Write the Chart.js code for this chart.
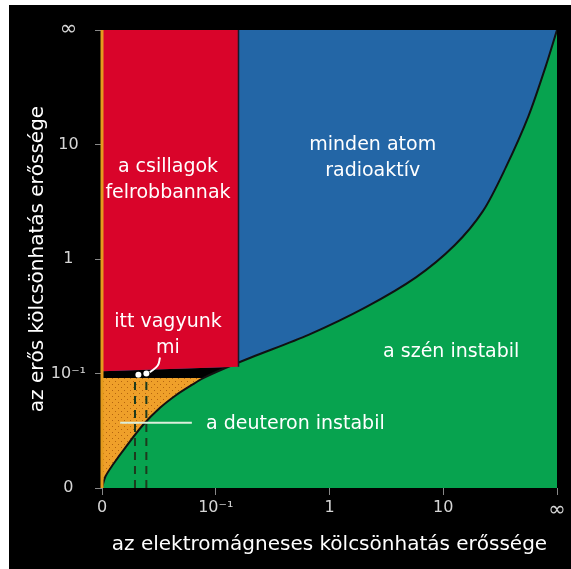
<!DOCTYPE html>
<html>
<head>
<meta charset="utf-8">
<script src="https://cdn.jsdelivr.net/npm/chart.js@4"></script>
<style>
  body { margin: 0; background: #fff; }
  #wrap { position: absolute; left: 9px; top: 5px; width: 562px; height: 564px; background: #000; }
</style>
</head>
<body>
<div id="wrap"><canvas id="phase" width="562" height="564"></canvas></div>
<script>
// tick labels, both axes use the same odd scale: 0, 10^-1, 1, 10, infinity
const tickLabels = ['0', '10\u207B\u00B9', '1', '10', '\u221E'];

// boundary between "a szén instabil" (below) and the rest
const curveX = [0, 0.03, 0.1, 0.21, 0.36, 0.51, 0.65, 0.79, 0.89, 1.09, 1.31, 1.82, 2.32, 2.76, 3.1, 3.35, 3.55, 3.75, 3.9, 4];
const curveY = [0, 0.1, 0.21, 0.36, 0.55, 0.70, 0.81, 0.90, 0.96, 1.05, 1.14, 1.34, 1.58, 1.84, 2.12, 2.42, 2.8, 3.25, 3.68, 4];

// red block (stars explode) and orange block (deuteron unstable)
const redX = [0, 1.2];
const redY = [1.02, 1.06];
const orangeX = [0, 0.89];
const orangeY = [0.96, 0.96];

// "itt vagyunk mi": two dashed lines and the marker
const dashX = [0.29, 0.39];
const dashTop = 0.96;
const hereX = [0.32, 0.39];
const hereY = [0.99, 1.0];
const pointerX = [0.51, 0.49, 0.42];
const pointerY = [1.14, 1.07, 1.01];
const deutLineX = [0.16, 0.79];
const deutLineY = [0.57, 0.57];

const notes = [
  { lines: ['a csillagok', 'felrobbannak'], x: 0.58, y: 2.69 },
  { lines: ['minden atom', 'radioaktív'], x: 2.38, y: 2.88 },
  { lines: ['itt vagyunk', 'mi'], x: 0.58, y: 1.34 },
  { lines: ['a szén instabil'], x: 3.07, y: 1.19 },
  { lines: ['a deuteron instabil'], x: 1.70, y: 0.56 }
];

function pts(xs, ys) {
  return xs.map(function(x, i) { return {x: x, y: ys[i]}; });
}

function dotPattern() {
  var c = document.createElement('canvas');
  c.width = 6; c.height = 6;
  var g = c.getContext('2d');
  g.fillStyle = '#EFA02A';
  g.fillRect(0, 0, 6, 6);
  g.fillStyle = '#B5650F';
  g.fillRect(1, 1, 1, 1);
  g.fillRect(4, 4, 1, 1);
  return g.createPattern(c, 'repeat');
}

const notesPlugin = {
  id: 'notes',
  afterDatasetsDraw: function(chart) {
    var ctx = chart.ctx, xs = chart.scales.x, ys = chart.scales.y;
    ctx.save();
    ctx.fillStyle = '#fff';
    ctx.font = '19px "DejaVu Sans"';
    ctx.textAlign = 'center';
    ctx.textBaseline = 'middle';
    notes.forEach(function(n) {
      var px = xs.getPixelForValue(n.x), py = ys.getPixelForValue(n.y);
      var lh = 26, top = py - (n.lines.length - 1) * lh / 2;
      n.lines.forEach(function(t, i) { ctx.fillText(t, px, top + i * lh); });
    });
    ctx.restore();
  }
};

function prepareChart() {
  const line = { pointRadius: 0, fill: false, tension: 0 };
  const curve = pts(curveX, curveY);

  // higher order = drawn further back
  const datasets = [
    Object.assign({}, line, { data: curve, fill: 'end', backgroundColor: '#2366A6', borderWidth: 0, tension: 0.3, order: 9 }),
    Object.assign({}, line, { data: pts(redX, redY), fill: 'start', backgroundColor: '#000', borderWidth: 0, order: 8 }),
    Object.assign({}, line, { data: pts(orangeX, orangeY), fill: 'start', backgroundColor: dotPattern(), borderWidth: 0, order: 7 }),
    Object.assign({}, line, { data: curve, fill: 'start', backgroundColor: '#07A34F', borderColor: '#111', borderWidth: 2, tension: 0.3, order: 6 }),
    Object.assign({}, line, { data: pts(redX, redY), fill: 'end', backgroundColor: '#D9042A', borderWidth: 0, order: 5 }),
    Object.assign({}, line, { data: pts([1.2, 1.2], [1.06, 4]), borderColor: '#1a1a2a', borderWidth: 1.5, order: 3 }),
    Object.assign({}, line, { data: pts([dashX[0], dashX[0]], [0, dashTop]), borderColor: '#1d3a1d', borderWidth: 2, borderDash: [8, 6], order: 2 }),
    Object.assign({}, line, { data: pts([dashX[1], dashX[1]], [0, dashTop]), borderColor: '#1d3a1d', borderWidth: 2, borderDash: [8, 6], order: 2 }),
    Object.assign({}, line, { data: pts(deutLineX, deutLineY), borderColor: '#dcefdc', borderWidth: 2, order: 1 }),
    Object.assign({}, line, { data: pts(pointerX, pointerY), borderColor: '#fff', borderWidth: 2, tension: 0.4, order: 1 }),
    Object.assign({}, line, { data: pts(hereX, hereY), pointRadius: 3, pointBackgroundColor: '#fff', pointBorderWidth: 0, borderWidth: 0, order: 1 }),
    Object.assign({}, line, { data: pts([0, 0], [0, 4]), borderColor: '#E49B1E', borderWidth: 3, clip: 4, order: 1 })
  ];

  const tickFont = function(c) {
    return { family: 'DejaVu Sans', size: c.tick && c.tick.value === 4 ? 21 : 16 };
  };

  const config = {
    type: 'line',
    data: { datasets: datasets },
    options: {
      responsive: false,
      animation: false,
      events: [],
      layout: { padding: { top: 25, right: 14, left: 0, bottom: 0 } },
      plugins: { legend: { display: false }, tooltip: { enabled: false } },
      scales: {
        x: {
          type: 'linear', min: 0, max: 4,
          afterFit: function(s) { s.height = 81; },
          border: { display: false },
          grid: { drawOnChartArea: false, drawTicks: true, tickLength: 7, color: '#888' },
          ticks: { stepSize: 1, color: '#d6d6d6', font: tickFont, padding: 3,
                   callback: function(v) { return tickLabels[v]; } },
          title: { display: true, text: 'az elektromágneses kölcsönhatás erőssége', color: '#fff',
                   font: { family: 'DejaVu Sans', size: 20 }, padding: { top: 12, bottom: 12 } }
        },
        y: {
          type: 'linear', min: 0, max: 4,
          afterFit: function(s) { s.width = 93; },
          border: { display: false },
          grid: { drawOnChartArea: false, drawTicks: true, tickLength: 7, color: '#888' },
          ticks: { stepSize: 1, color: '#d6d6d6', font: tickFont, padding: 9, crossAlign: 'center',
                   callback: function(v) { return tickLabels[v]; } },
          title: { display: true, text: 'az erős kölcsönhatás erőssége', color: '#fff',
                   font: { family: 'DejaVu Sans', size: 20 }, padding: { bottom: 0, top: 17 } }
        }
      }
    },
    plugins: [notesPlugin]
  };
  return config;
}

function drawChart(myconfig) {
  var myChart = new Chart(document.getElementById('phase'), myconfig);
}

drawChart(prepareChart());
</script>
</body>
</html>
